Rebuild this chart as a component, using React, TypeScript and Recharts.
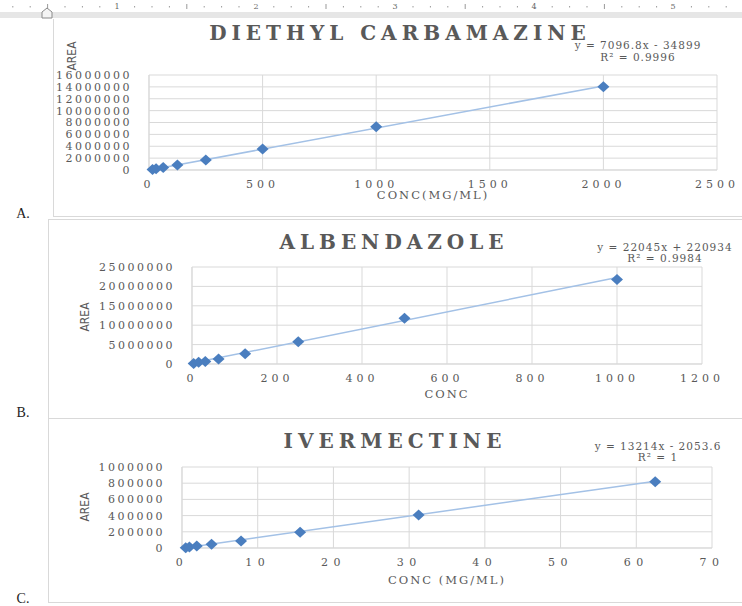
import React from 'react';
import { ScatterChart, Scatter, XAxis, YAxis, CartesianGrid, ReferenceLine } from 'recharts';

// DIETHYL CARBAMAZINE
const decConc = [15.6, 31.25, 62.5, 125, 250, 500, 1000, 2000];
const decArea = [85000, 190000, 410000, 840000, 1690000, 3540000, 7290000, 14030000];
const decXTicks = [0, 500, 1000, 1500, 2000, 2500];
const decYTicks = [0, 2000000, 4000000, 6000000, 8000000, 10000000, 12000000, 14000000, 16000000];
const decFit = [7096.8, -34899];

// ALBENDAZOLE
const albConc = [3.9, 15.6, 31.25, 62.5, 125, 250, 500, 1000];
const albArea = [150000, 420000, 640000, 1290000, 2660000, 5760000, 11800000, 21800000];
const albXTicks = [0, 200, 400, 600, 800, 1000, 1200];
const albYTicks = [0, 5000000, 10000000, 15000000, 20000000, 25000000];
const albFit = [22045, 220934];

// IVERMECTINE
const ivConc = [0.49, 0.98, 1.95, 3.9, 7.8, 15.6, 31.25, 62.5];
const ivArea = [4000, 11000, 24000, 46000, 86000, 194000, 407000, 819000];
const ivXTicks = [0, 10, 20, 30, 40, 50, 60, 70];
const ivYTicks = [0, 200000, 400000, 600000, 800000, 1000000];
const ivFit = [13214, -2053.6];

const GRAY = '#595959';
const GRID = '#d9d9d9';
const SERIF = '"DejaVu Serif", "Liberation Serif", serif';

const Diamond = (props: any) => {
  const { cx, cy } = props;
  if (cx == null || cy == null) return null;
  return (
    <polygon
      points={`${cx},${cy - 5.5} ${cx + 6},${cy} ${cx},${cy + 5.5} ${cx - 6},${cy}`}
      fill="#4a7ebf"
    />
  );
};

type Plot = { left: number; right: number; top: number; bottom: number };

const CalChart = ({
  conc, area, xTicks, yTicks, fit, plot, xSpacing,
}: {
  conc: number[]; area: number[]; xTicks: number[]; yTicks: number[]; fit: number[]; plot: Plot; xSpacing: number;
}) => {
  const data = conc.map((c, i) => ({ x: c, y: area[i] }));
  const x0 = conc[0];
  const x1 = conc[conc.length - 1];
  const h = plot.bottom + 35;
  return (
    <div style={{ position: 'absolute', left: 0, top: 0 }}>
      <ScatterChart
        width={742}
        height={h}
        margin={{ top: plot.top, right: 742 - plot.right, bottom: 5, left: 0 }}
      >
        <CartesianGrid stroke={GRID} strokeWidth={1} />
        <XAxis
          type="number"
          dataKey="x"
          domain={[xTicks[0], xTicks[xTicks.length - 1]]}
          ticks={xTicks}
          interval={0}
          height={30}
          tickSize={0}
          tickMargin={10}
          axisLine={{ stroke: GRID }}
          tick={{ fill: GRAY, fontSize: 11, fontFamily: SERIF, letterSpacing: xSpacing }}
        />
        <YAxis
          type="number"
          dataKey="y"
          domain={[yTicks[0], yTicks[yTicks.length - 1]]}
          ticks={yTicks}
          interval={0}
          width={plot.left}
          tickSize={0}
          tickMargin={17}
          axisLine={{ stroke: GRID }}
          tick={{ fill: GRAY, fontSize: 11, fontFamily: SERIF, letterSpacing: 2.5 }}
        />
        <ReferenceLine
          segment={[
            { x: x0, y: fit[0] * x0 + fit[1] },
            { x: x1, y: fit[0] * x1 + fit[1] },
          ]}
          stroke="#a3c1e6"
          strokeWidth={1.5}
          ifOverflow="visible"
        />
        <Scatter data={data} shape={<Diamond />} isAnimationActive={false} />
      </ScatterChart>
    </div>
  );
};

const Txt = ({ x, y, children, style }: { x: number; y: number; children: React.ReactNode; style?: React.CSSProperties }) => (
  <div
    style={{
      position: 'absolute',
      left: x - 200,
      top: y,
      width: 400,
      textAlign: 'center',
      transform: 'translateY(-50%)',
      whiteSpace: 'nowrap',
      lineHeight: 1,
      color: GRAY,
      fontFamily: SERIF,
      ...style,
    }}
  >
    {children}
  </div>
);

const titleStyle: React.CSSProperties = { fontSize: 20, fontWeight: 'bold', letterSpacing: 5 };
const eqStyle: React.CSSProperties = { fontSize: 10.5, letterSpacing: 1 };
const axisStyle: React.CSSProperties = { fontSize: 11.5, letterSpacing: 2 };

const AreaLabel = ({ x, y }: { x: number; y: number }) => (
  <div
    style={{
      position: 'absolute',
      left: x - 30,
      top: y - 8,
      width: 60,
      height: 16,
      lineHeight: '16px',
      textAlign: 'center',
      transform: 'rotate(-90deg)',
      color: GRAY,
      fontFamily: '"DejaVu Sans Condensed", "Liberation Sans Narrow", sans-serif',
      fontSize: 12,
    }}
  >
    AREA
  </div>
);

const Ruler = () => {
  const marks = [];
  for (let i = 0; i < 44; i++) {
    const x = -22 + i * 17.4;
    if (i % 8 === 0) continue;
    const tall = i % 4 === 0;
    marks.push(<rect key={i} x={x - 0.5} y={tall ? 4 : 6} width={1} height={tall ? 5 : 1.5} fill="#9a9a9a" />);
  }
  const labels = [1, 2, 3, 4, 5];
  return (
    <svg width={742} height={19} style={{ position: 'absolute', left: 0, top: 0 }}>
      <rect x={0} y={0} width={742} height={19} fill="#ffffff" />
      <rect x={0} y={12} width={742} height={6} fill="#e6e6e6" />
      {marks}
      {labels.map((n) => (
        <text key={n} x={117 + (n - 1) * 139} y={9} fontSize={8} fill="#666" textAnchor="middle" fontFamily={SERIF}>
          {n}
        </text>
      ))}
      <path d="M42,18 L42,12 L47,8 L52,12 L52,18 Z" fill="#f4f4f4" stroke="#8a8a8a" strokeWidth={1} />
    </svg>
  );
};

const frame = (left: number, top: number, height: number): React.CSSProperties => ({
  position: 'absolute',
  left,
  top,
  width: 760,
  height,
  boxSizing: 'border-box',
  border: `1.5px solid ${GRID}`,
});

const App: React.FC = () => {
  return (
    <div style={{ position: 'absolute', left: 0, top: 0, width: 742, height: 606, overflow: 'hidden', background: '#fff' }}>
      <div style={frame(53, 0, 217)} />
      <div style={frame(48, 219, 200)} />
      <div style={frame(48, 418, 185)} />

      <CalChart conc={decConc} area={decArea} xTicks={decXTicks} yTicks={decYTicks} fit={decFit}
        plot={{ left: 149, right: 717, top: 75, bottom: 170 }} xSpacing={4} />
      <CalChart conc={albConc} area={albArea} xTicks={albXTicks} yTicks={albYTicks} fit={albFit}
        plot={{ left: 192, right: 702, top: 267, bottom: 364 }} xSpacing={4} />
      <CalChart conc={ivConc} area={ivArea} xTicks={ivXTicks} yTicks={ivYTicks} fit={ivFit}
        plot={{ left: 182, right: 712, top: 467, bottom: 548 }} xSpacing={5.5} />

      <Ruler />

      <Txt x={400} y={33} style={titleStyle}>DIETHYL CARBAMAZINE</Txt>
      <Txt x={638} y={45} style={eqStyle}>y = 7096.8x - 34899</Txt>
      <Txt x={638} y={57} style={eqStyle}>R² = 0.9996</Txt>
      <AreaLabel x={72} y={56} />
      <Txt x={433} y={196} style={axisStyle}>CONC(MG/ML)</Txt>

      <Txt x={394} y={242} style={titleStyle}>ALBENDAZOLE</Txt>
      <Txt x={665} y={247} style={eqStyle}>y = 22045x + 220934</Txt>
      <Txt x={665} y={258} style={eqStyle}>R² = 0.9984</Txt>
      <AreaLabel x={85} y={317} />
      <Txt x={447} y={395} style={axisStyle}>CONC</Txt>

      <Txt x={395} y={441} style={titleStyle}>IVERMECTINE</Txt>
      <Txt x={658} y={446} style={eqStyle}>y = 13214x - 2053.6</Txt>
      <Txt x={658} y={457} style={eqStyle}>R² = 1</Txt>
      <AreaLabel x={85} y={507} />
      <Txt x={447} y={581} style={axisStyle}>CONC (MG/ML)</Txt>

      <Txt x={23} y={214} style={{ color: '#222', fontSize: 14, fontFamily: '"Liberation Serif", serif' }}>A.</Txt>
      <Txt x={23} y={413} style={{ color: '#222', fontSize: 14, fontFamily: '"Liberation Serif", serif' }}>B.</Txt>
      <Txt x={23} y={599} style={{ color: '#222', fontSize: 14, fontFamily: '"Liberation Serif", serif' }}>C.</Txt>
    </div>
  );
};

export default App;
